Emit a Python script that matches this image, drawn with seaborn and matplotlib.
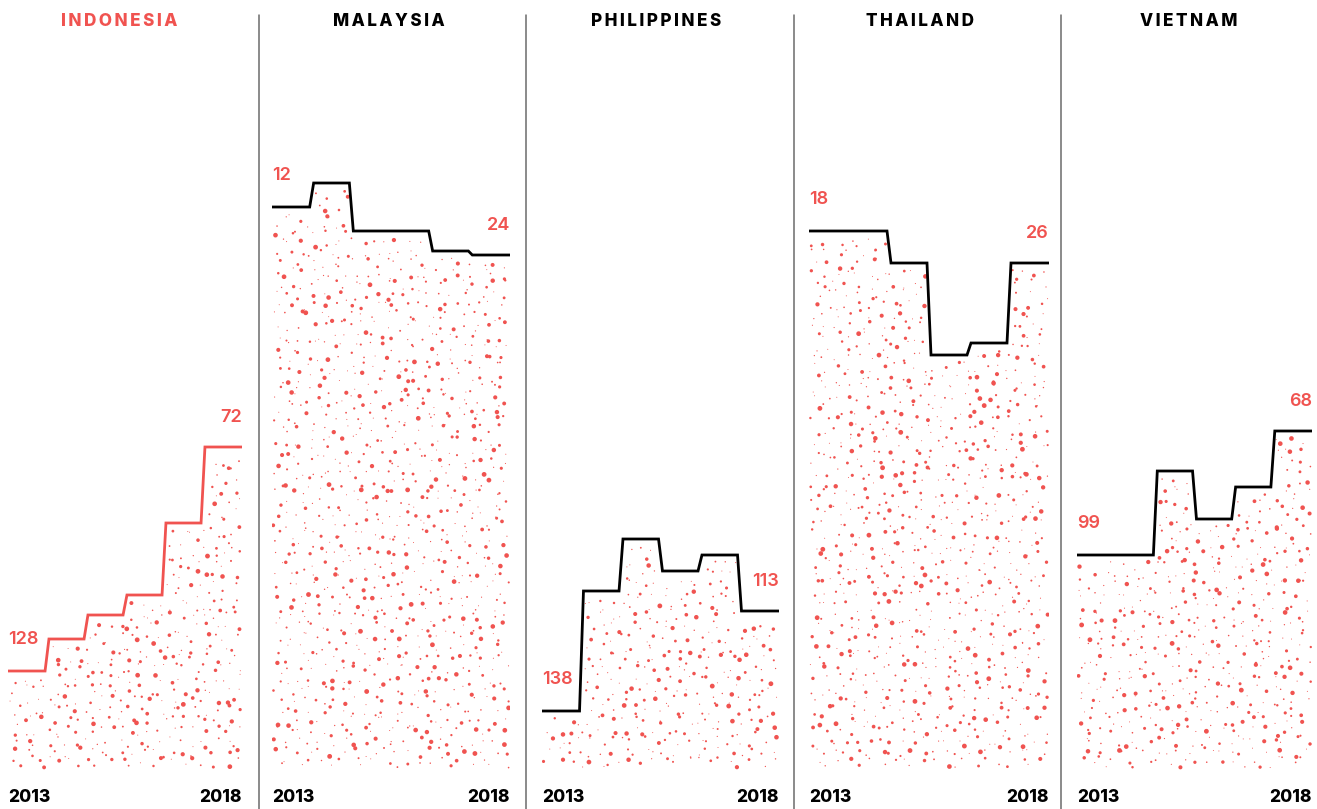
import numpy as np
import pandas as pd
import matplotlib
matplotlib.use("Agg")
import matplotlib.pyplot as plt
import seaborn as sns

# ---- data (Ease of doing business rank) ----
countries = ["INDONESIA", "MALAYSIA", "PHILIPPINES", "THAILAND", "VIETNAM"]
years = [2013, 2014, 2015, 2016, 2017, 2018]
indonesia = [128, 120, 114, 109, 91, 72]
malaysia = [12, 6, 18, 18, 23, 24]
philippines = [138, 108, 95, 103, 99, 113]
thailand = [18, 18, 26, 49, 46, 26]
vietnam = [99, 99, 78, 90, 82, 68]
series = [indonesia, malaysia, philippines, thailand, vietnam]
highlight = "INDONESIA"

sns.set_theme(style="white")
plt.rcParams["font.family"] = ["Inter", "DejaVu Sans"]

W, H = 1317, 809
fig = plt.figure(figsize=(W / 100, H / 100), dpi=100)
RED = "#F05350"
SEP = "#6b6b6b"

ax_lefts = [8, 272, 542, 809, 1077]
ax_rights = [242, 510, 779, 1049, 1312]
title_cx = [119, 389, 656, 920, 1189]
seps = [258.5, 526, 793.5, 1061]
top_px, bot_px = 40, 770
rank0_px, px_per_rank = 159, 4.0
rank_top = (top_px - rank0_px) / px_per_rank
rank_bot = (bot_px - rank0_px) / px_per_rank

n = len(years)
d = 0.05


def hashf(i, s):
    # deterministic hash in [0,1) for a decorative stipple texture
    v = np.sin(i * 12.9898 + s * 78.233) * 43758.5453
    return v - np.floor(v)


def line_pts(vals):
    xs, ys = [0.0], [vals[0]]
    for i in range(n - 1):
        xs += [i + 1 - d, i + 1 + d]
        ys += [vals[i], vals[i + 1]]
    xs.append(float(n))
    ys.append(vals[-1])
    return xs, ys


def floor_at(vals, x):
    lo = int(np.clip(np.floor(x - 0.08), 0, n - 1))
    hi = int(np.clip(np.floor(x + 0.08), 0, n - 1))
    return max(vals[lo], vals[hi])


# stipple grid (cells ~10.5 px)
cols, rows = 22, 70

for k, (name, vals) in enumerate(zip(countries, series)):
    l = ax_lefts[k] / W
    w = (ax_rights[k] - ax_lefts[k]) / W
    b = 1 - bot_px / H
    h = (bot_px - top_px) / H
    ax = fig.add_axes([l, b, w, h])
    color = RED if name == highlight else "black"

    # stipple dots: one jittered dot per cell
    ci, ri = np.meshgrid(np.arange(cols), np.arange(rows))
    ci = ci.ravel().astype(float)
    ri = ri.ravel().astype(float)
    idx = np.arange(ci.size) + k * 5000 + 1
    jx = hashf(idx, 1.0)
    jy = hashf(idx, 2.0)
    js = hashf(idx, 3.0)
    dx = 0.03 + (ci + jx) / cols * (n - 0.06)
    dy = rank_top + (ri + jy) / rows * (rank_bot - 0.6 - rank_top)
    keep = np.array([dy[j] > floor_at(vals, dx[j]) + 1.6 for j in range(dx.size)])
    dots = pd.DataFrame({"x": dx[keep], "y": dy[keep], "s": js[keep] ** 3})
    sns.scatterplot(data=dots, x="x", y="y", size="s", sizes=(0.5, 12), color=RED,
                    linewidth=0, legend=False, ax=ax, zorder=2)

    xs, ys = line_pts(vals)
    ldf = pd.DataFrame({"x": xs, "y": ys})
    sns.lineplot(data=ldf, x="x", y="y", sort=False, estimator=None, color=color,
                 linewidth=2.0, ax=ax, zorder=3, solid_joinstyle="miter")

    ax.set_xlim(0, n)
    ax.set_ylim(rank_bot, rank_top)
    ax.axis("off")

    # value labels
    ax.text(0, vals[0] - 8.0, str(vals[0]), ha="left", va="center", color=RED,
            fontsize=13, fontweight="semibold")
    ax.text(n, vals[-1] - 7.5, str(vals[-1]), ha="right", va="center", color=RED,
            fontsize=13, fontweight="semibold")

    # years
    fig.text(ax_lefts[k] / W, 1 - 797 / H, str(years[0]), ha="left", va="center",
             fontsize=12.5, fontweight="heavy", color="black")
    fig.text(ax_rights[k] / W, 1 - 797 / H, str(years[-1]), ha="right", va="center",
             fontsize=12.5, fontweight="heavy", color="black")

    # title with letter spacing
    fig.text(title_cx[k] / W, 1 - 21 / H, "\u2009".join(name), ha="center", va="center",
             fontsize=12.3, fontweight="heavy", color=color)

for sx in seps:
    fig.add_artist(plt.Line2D([sx / W, sx / W], [0, 1 - 15 / H], color=SEP, linewidth=1.1))

fig.savefig("out.png", dpi=100)
